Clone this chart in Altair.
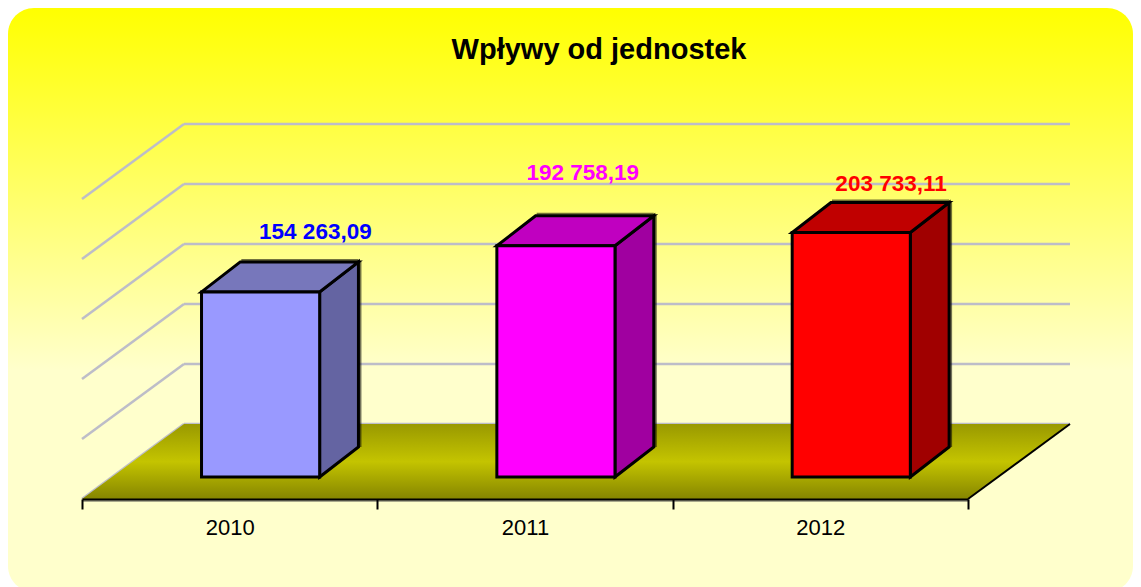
import altair as alt
import pandas as pd

# ---- data ----
categories = ["2010", "2011", "2012"]
values = [154263.09, 192758.19, 203733.11]
value_labels = ["154 263,09", "192 758,19", "203 733,11"]
grid_values = [0, 50000, 100000, 150000, 200000, 250000]
title_text = "Wpływy od jednostek"

# ---- styles ----
front_colors = ["#9999FF", "#FF00FF", "#FF0000"]
top_colors = ["#7777BB", "#C000C0", "#C00000"]
side_colors = ["#6464A2", "#A000A0", "#A00000"]
label_colors = ["#0000FF", "#FF00FF", "#FF0000"]
label_offsets = [(15, -30), (-13, -43), (0, -19)]
FONT = "Liberation Sans"

# ---- oblique projection of the 3-D chart: depth 0 = front, 1 = back wall ----
N = len(categories)
DEPTH_X = 102 / (886 / N)
DEPTH_Y = 62500
BAR_W = 0.4
BAR_SHIFT = 1 / (886 / N)
D0, D1 = 22 / 75, 52 / 75


def px(cat, d):
    return cat + d * DEPTH_X


def py(val, d):
    return val + (d - 1) * DEPTH_Y


def grad(stops):
    return alt.LinearGradient(
        gradient="linear",
        stops=[alt.GradientStop(color=c, offset=o) for c, o in stops],
        x1=0, x2=0, y1=0, y2=1,
    )


cat_list = "[" + ",".join(f"'{c}'" for c in categories) + "]"
X_AXIS = alt.Axis(
    values=list(range(N + 1)),
    labelExpr=f"{cat_list}[datum.value] || ''",
    labelOffset=886 / N / 2,
    labelFont=FONT,
    labelFontSize=22,
    labelColor="#000000",
    labelPadding=8,
    labelAlign="center",
    labelFlush=False,
    labelOverlap=False,
    domainColor="#000000",
    domainWidth=2,
    tickColor="#000000",
    tickWidth=2,
    tickSize=10,
    grid=False,
    zindex=1,
)
X = lambda: alt.X("x:Q", scale=alt.Scale(domain=[0, N], nice=False, zero=False), axis=X_AXIS, title=None)
Y = lambda: alt.Y("y:Q", scale=alt.Scale(domain=[-DEPTH_Y, grid_values[-1]], nice=False, zero=False), axis=None)

one = pd.DataFrame({"k": [0]})
layers = []

# background panel
layers.append(
    alt.Chart(one)
    .mark_rect(
        cornerRadius=26,
        fill=grad([("#FFFF00", 0), ("#FFFFCC", 0.62), ("#FFFFCC", 1)]),
    )
    .encode(x=alt.value(-74), x2=alt.value(1051), y=alt.value(-116), y2=alt.value(468))
)

# chart title
layers.append(
    alt.Chart(one)
    .mark_text(font=FONT, fontSize=29, fontWeight="bold", color="#000000", align="center", baseline="middle")
    .encode(x=alt.value(517), y=alt.value(-74), text=alt.value(title_text))
)

# back wall and side wall grid lines
wall = pd.DataFrame(
    [{"x": px(0, 1), "x2": px(N, 1), "y": v, "y2": v} for v in grid_values]
)
side = pd.DataFrame(
    [{"x": px(0, 0), "x2": px(0, 1), "y": py(v, 0), "y2": v} for v in grid_values]
)
GRID = "#BDBDC8"
for df in (wall, side):
    layers.append(
        alt.Chart(df).mark_rule(color=GRID, strokeWidth=2.5).encode(x=X(), x2="x2:Q", y=Y(), y2="y2:Q")
    )

# floor
floor = pd.DataFrame(
    [
        {"y": py(0, 0), "x": px(0, 0), "x2": px(N, 0)},
        {"y": py(0, 1), "x": px(0, 1), "x2": px(N, 1)},
    ]
)
layers.append(
    alt.Chart(floor)
    .mark_area(
        orient="horizontal",
        fill=grad([("#999900", 0), ("#C4C400", 0.5), ("#858500", 1)]),
    )
    .encode(x=X(), x2="x2:Q", y=Y())
)
edge = pd.DataFrame([{"x": px(N, 0), "x2": px(N, 1), "y": py(0, 0), "y2": 0}])
layers.append(alt.Chart(edge).mark_rule(color="#000000", strokeWidth=2).encode(x=X(), x2="x2:Q", y=Y(), y2="y2:Q"))
front_edge = pd.DataFrame([{"x": px(0, 0), "x2": px(N, 0), "y": py(0, 0)}])
layers.append(
    alt.Chart(front_edge)
    .mark_rule(color="#A9A98C", strokeWidth=2, yOffset=2)
    .encode(x=X(), x2="x2:Q", y=Y())
)

# 3-D bars
for i, v in enumerate(values):
    left = i + 0.5 - BAR_W / 2 + BAR_SHIFT
    right = i + 0.5 + BAR_W / 2 + BAR_SHIFT
    back_left = px(left, D1) - 2 * BAR_SHIFT
    back_right = px(right, D1) - 2 * BAR_SHIFT
    shadow_top = pd.DataFrame([{"x": back_left, "x2": back_right, "y": py(v, D1)}])
    layers.append(
        alt.Chart(shadow_top)
        .mark_rule(color="#000000", opacity=0.55, strokeWidth=2, yOffset=-2, xOffset=1)
        .encode(x=X(), x2="x2:Q", y=Y())
    )
    shadow_side = pd.DataFrame([{"x": back_right, "y": py(v, D1), "y2": py(0, D1)}])
    layers.append(
        alt.Chart(shadow_side)
        .mark_rule(color="#000000", opacity=0.55, strokeWidth=2, xOffset=2)
        .encode(x=X(), y=Y(), y2="y2:Q")
    )
    side_df = pd.DataFrame(
        [
            {"x": px(right, D0), "y": py(0, D0), "y2": py(v, D0)},
            {"x": back_right, "y": py(0, D1), "y2": py(v, D1)},
        ]
    )
    layers.append(
        alt.Chart(side_df)
        .mark_area(orient="vertical", fill=side_colors[i], stroke="#000000", strokeWidth=3)
        .encode(x=X(), y=Y(), y2="y2:Q")
    )
    top_df = pd.DataFrame(
        [
            {"y": py(v, D0), "x": px(left, D0), "x2": px(right, D0)},
            {"y": py(v, D1), "x": back_left, "x2": back_right},
        ]
    )
    layers.append(
        alt.Chart(top_df)
        .mark_area(orient="horizontal", fill=top_colors[i], stroke="#000000", strokeWidth=3)
        .encode(x=X(), x2="x2:Q", y=Y())
    )
    front_df = pd.DataFrame(
        [{"x": px(left, D0), "x2": px(right, D0), "y": py(0, D0), "y2": py(v, D0)}]
    )
    layers.append(
        alt.Chart(front_df)
        .mark_rect(fill=front_colors[i], stroke="#000000", strokeWidth=3)
        .encode(x=X(), x2="x2:Q", y=Y(), y2="y2:Q")
    )

# value labels
for i, v in enumerate(values):
    lab = pd.DataFrame([{"x": px(i + 0.5, D1), "y": py(v, D1), "t": value_labels[i]}])
    layers.append(
        alt.Chart(lab)
        .mark_text(
            font=FONT, fontSize=22.5, fontWeight="bold", color=label_colors[i],
            dx=label_offsets[i][0], dy=label_offsets[i][1], baseline="middle",
        )
        .encode(x=X(), y=Y(), text="t:N")
    )

chart = (
    alt.layer(*layers)
    .properties(
        width=886,
        height=375,
        padding={"left": 74, "top": 116, "right": 165, "bottom": 93},
        autosize=alt.AutoSizeParams(type="none"),
        background="transparent",
    )
    .configure_view(stroke=None)
)

chart.save("out.html", embed_options={"renderer": "svg", "actions": False})
